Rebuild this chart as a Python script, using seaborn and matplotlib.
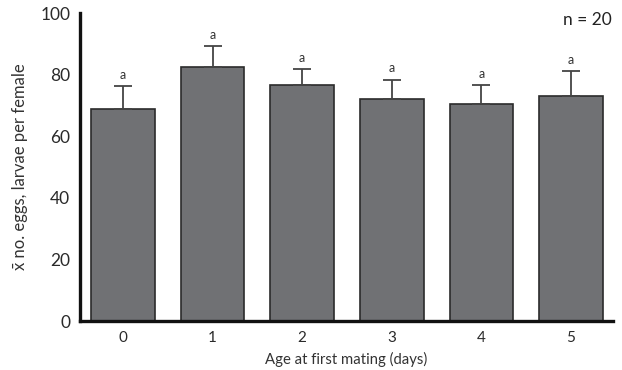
import numpy as np
import pandas as pd
import seaborn as sns
import matplotlib
matplotlib.use("Agg")
import matplotlib.pyplot as plt

# values
age = ["0", "1", "2", "3", "4", "5"]
mean_offspring = [68.8, 82.6, 76.6, 72.0, 70.4, 73.0]
se_offspring = [7.6, 6.6, 5.1, 6.4, 6.2, 8.1]
letters = ["a", "a", "a", "a", "a", "a"]

df = pd.DataFrame({"age": age, "mean": mean_offspring, "se": se_offspring})

sns.set_style("white")
plt.rcParams["font.family"] = ["Lato", "DejaVu Sans"]

fig = plt.figure(figsize=(6.22, 3.70), dpi=100)
ax = fig.add_axes([80 / 622, 1 - 321 / 370, 533 / 622, 308 / 370])

sns.barplot(data=df, x="age", y="mean", color="#707174", saturation=1,
            width=0.71, edgecolor="#2b2b2b", linewidth=1.2, ax=ax, errorbar=None)

# one-sided error bars (upper only)
x = np.arange(len(age))
ax.errorbar(x, df["mean"], yerr=[np.zeros(len(age)), df["se"]], fmt="none",
            ecolor="#444444", elinewidth=1.3, capsize=6.5, capthick=1.3)

for xi, m, s, lab in zip(x, mean_offspring, se_offspring, letters):
    ax.text(xi, m + s + 3.6, lab, ha="center", va="center", fontsize=9, color="#333333")

ax.set_xlim(-0.48, 5.47)
ax.set_ylim(0, 100)
ax.set_yticks([0, 20, 40, 60, 80, 100])
sns.despine(ax=ax)
for side in ["left", "bottom"]:
    ax.spines[side].set_linewidth(2.4)
    ax.spines[side].set_color("#111111")
ax.tick_params(axis="both", length=0, colors="#2a2a2a")
ax.tick_params(axis="x", pad=7, labelsize=11)
ax.tick_params(axis="y", pad=7, labelsize=12.5)

ax.set_xlabel("Age at first mating (days)", fontsize=10.7, color="#333333", labelpad=5)
ax.set_ylabel("x\u0304 no. eggs, larvae per female", fontsize=12, color="#333333", labelpad=9)

ax.text(0.951, 0.977, "n = 20", transform=ax.transAxes, ha="center", va="center",
        fontsize=12.5, color="#222222")

plt.savefig("out.png", dpi=100)
